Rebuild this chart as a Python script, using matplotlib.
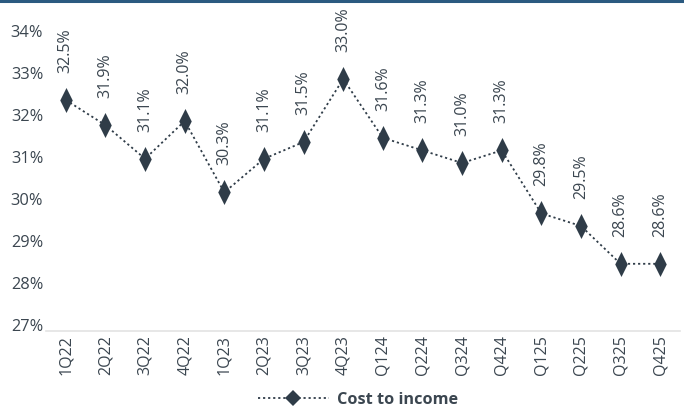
import matplotlib
matplotlib.use("Agg")
import matplotlib.pyplot as plt
from matplotlib.lines import Line2D
from matplotlib.path import Path
from matplotlib.transforms import ScaledTranslation

categories = ["1Q22", "2Q22", "3Q22", "4Q22", "1Q23", "2Q23", "3Q23", "4Q23",
              "Q124", "Q224", "Q324", "Q424", "Q125", "Q225", "Q325", "Q425"]
cost_to_income = [32.5, 31.9, 31.1, 32.0, 30.3, 31.1, 31.5, 33.0,
                  31.6, 31.3, 31.0, 31.3, 29.8, 29.5, 28.6, 28.6]
y_ticks = [27, 28, 29, 30, 31, 32, 33, 34]
series_name = "Cost to income"

plt.rcParams['font.family'] = ['Open Sans', 'DejaVu Sans']
text_color = "#3b4650"
mark_color = "#2f3c48"

fig = plt.figure(figsize=(6.84, 4.07), dpi=100)
ax = fig.add_axes([46/684, (407-331)/407, (680-46)/684, (331-37)/407])

x = list(range(len(categories)))
diamond = Path([(0, 1), (0.5, 0), (0, -1), (-0.5, 0), (0, 1)],
               [Path.MOVETO, Path.LINETO, Path.LINETO, Path.LINETO, Path.CLOSEPOLY])
ax.plot(x, cost_to_income, linestyle=(0, (1.2, 1.6)), color=mark_color, lw=1.3,
        marker=diamond, markersize=18, markerfacecolor=mark_color,
        markeredgecolor=mark_color, markeredgewidth=0)

for xi, v in zip(x, cost_to_income):
    ax.annotate(f"{v:.1f}%", (xi, v), xytext=(0, 19.5), textcoords="offset points",
                rotation=90, ha="center", va="bottom", fontsize=11.5, color=text_color)

ax.set_xlim(-0.5, len(categories) - 0.5)
ax.set_ylim(27, 34)
ax.set_xticks(x)
ax.set_xticklabels(categories, rotation=90, fontsize=11.5, color=text_color)
ax.set_yticks(y_ticks)
ax.set_yticklabels([f"{t}%" for t in y_ticks], fontsize=11.8, color=text_color)
ax.tick_params(axis="both", length=0)
ax.tick_params(axis="x", pad=3)
ax.tick_params(axis="y", pad=2)
for lab in ax.get_yticklabels():
    lab.set_transform(lab.get_transform() + ScaledTranslation(0, 0.06, fig.dpi_scale_trans))

for s in ["top", "right", "left"]:
    ax.spines[s].set_visible(False)
ax.spines["bottom"].set_color("#e3e3e3")
ax.spines["bottom"].set_linewidth(1.2)

handle = Line2D([], [], linestyle=(0, (1.2, 1.6)), color=mark_color, lw=1.3,
                marker="D", markersize=8, markerfacecolor=mark_color, markeredgewidth=0)
leg = fig.legend([handle], [series_name], loc="center", bbox_to_anchor=(358/684, 1 - 400/407),
                 frameon=False, handlelength=4.4, handletextpad=0.5,
                 prop={"weight": "bold", "size": 11.7})
for t in leg.get_texts():
    t.set_color(text_color)

fig.add_artist(Line2D([0, 1], [1 - 0.8/407, 1 - 0.8/407], transform=fig.transFigure,
                      color="#2b5a80", lw=2.2))

fig.savefig("out.png", dpi=100)
